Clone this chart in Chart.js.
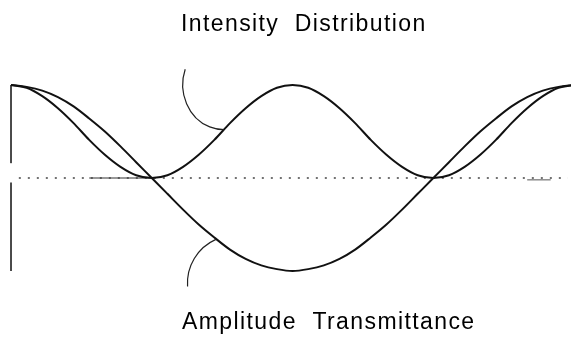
<!DOCTYPE html>
<html>
<head>
<meta charset="utf-8">
<script src="https://cdn.jsdelivr.net/npm/chart.js@4/dist/chart.umd.min.js"></script>
<style>
  html, body { margin: 0; padding: 0; background: #fff; }
  #c { display: block; }
</style>
</head>
<body>
<canvas id="c" width="571" height="339"></canvas>
<script>
// ---- data ----
const phaseDeg = [0,10,20,30,40,50,60,70,80,90,100,110,120,130,140,150,160,170,180,
                  190,200,210,220,230,240,250,260,270,280,290,300,310,320,330,340,350,360];
const amplitude = [1.00,0.98,0.94,0.87,0.77,0.64,0.50,0.34,0.17,0.00,-0.17,-0.34,-0.50,-0.64,-0.77,-0.87,-0.94,-0.98,-1.00,
                   -0.98,-0.94,-0.87,-0.77,-0.64,-0.50,-0.34,-0.17,0.00,0.17,0.34,0.50,0.64,0.77,0.87,0.94,0.98,1.00];
const intensity = [1.00,0.97,0.88,0.75,0.59,0.41,0.25,0.12,0.03,0.00,0.03,0.12,0.25,0.41,0.59,0.75,0.88,0.97,1.00,
                   0.97,0.88,0.75,0.59,0.41,0.25,0.12,0.03,0.00,0.03,0.12,0.25,0.41,0.59,0.75,0.88,0.97,1.00];
const zeroLineX = [5, 356];
const zeroSolidX = [50, 89];
const zeroSolidRightX = [330, 345];
const leftEdgeUpperY = [1.00, 0.16];
const leftEdgeLowerY = [-0.05, -1.00];
const topLabel = "Intensity  Distribution";
const bottomLabel = "Amplitude  Transmittance";
// points on the curves where the label leaders end
const intensityLeaderAt = [136, 0.52];
const amplitudeLeaderAt = [131, -0.66];

const pts = (xs, ys) => xs.map((x, i) => ({x, y: ys[i]}));

const annotate = {
  id: 'annotate',
  afterDatasetsDraw(chart) {
    const ctx = chart.ctx, xs = chart.scales.x, ys = chart.scales.y;
    ctx.save();
    ctx.strokeStyle = '#222';
    ctx.lineWidth = 1.2;
    // top leader (to intensity curve)
    const p1x = xs.getPixelForValue(intensityLeaderAt[0]);
    const p1y = ys.getPixelForValue(intensityLeaderAt[1]);
    ctx.beginPath();
    ctx.ellipse(p1x, p1y - 45, 41, 45, 0, 200 * Math.PI / 180, 90 * Math.PI / 180, true);
    ctx.stroke();
    // bottom leader (to amplitude curve)
    const p2x = xs.getPixelForValue(amplitudeLeaderAt[0]);
    const p2y = ys.getPixelForValue(amplitudeLeaderAt[1]);
    const r = 48, a = 246 * Math.PI / 180;
    const cx = p2x - r * Math.cos(a), cy = p2y - r * Math.sin(a);
    ctx.beginPath();
    ctx.arc(cx, cy, r, 176 * Math.PI / 180, a, false);
    ctx.stroke();
    // labels
    ctx.fillStyle = '#000';
    ctx.font = '23px "Liberation Sans", Arial, Helvetica, sans-serif';
    ctx.textAlign = 'left';
    ctx.textBaseline = 'alphabetic';
    try { ctx.letterSpacing = '1.4px'; } catch (e) {}
    ctx.fillText(topLabel, 181, 31);
    ctx.fillText(bottomLabel, 182, 329);
    ctx.restore();
  }
};

new Chart(document.getElementById('c'), {
  type: 'line',
  data: {
    datasets: [
      { label: 'Amplitude Transmittance', data: pts(phaseDeg, amplitude),
        borderColor: '#111', borderWidth: 2, pointRadius: 0, cubicInterpolationMode: 'monotone', clip: false },
      { label: 'Intensity Distribution', data: pts(phaseDeg, intensity),
        borderColor: '#111', borderWidth: 2, pointRadius: 0, cubicInterpolationMode: 'monotone', clip: false },
      { label: 'zero', data: pts(zeroLineX, [0, 0]),
        borderColor: '#444', borderWidth: 1.5, borderDash: [2, 7], pointRadius: 0, clip: false },
      { label: 'zero solid', data: pts(zeroSolidX, [0, 0]),
        borderColor: '#333', borderWidth: 1, pointRadius: 0, clip: false },
      { label: 'zero solid right', data: pts(zeroSolidRightX, [-0.02, -0.02]),
        borderColor: '#555', borderWidth: 1, pointRadius: 0, clip: false },
      { label: 'edge', data: [
          {x: 0, y: leftEdgeUpperY[0]}, {x: 0, y: leftEdgeUpperY[1]},
          {x: 0, y: null},
          {x: 0, y: leftEdgeLowerY[0]}, {x: 0, y: leftEdgeLowerY[1]}],
        borderColor: '#333', borderWidth: 1, pointRadius: 0, spanGaps: false, clip: false }
    ]
  },
  options: {
    responsive: false,
    devicePixelRatio: 1,
    animation: false,
    layout: { padding: { left: 11, right: 0, top: 85, bottom: 68 } },
    plugins: { legend: { display: false }, tooltip: { enabled: false }, title: { display: false } },
    scales: {
      x: { type: 'linear', display: false, min: 0, max: 358 },
      y: { type: 'linear', display: false, min: -1, max: 1 }
    }
  },
  plugins: [annotate]
});
</script>
</body>
</html>
